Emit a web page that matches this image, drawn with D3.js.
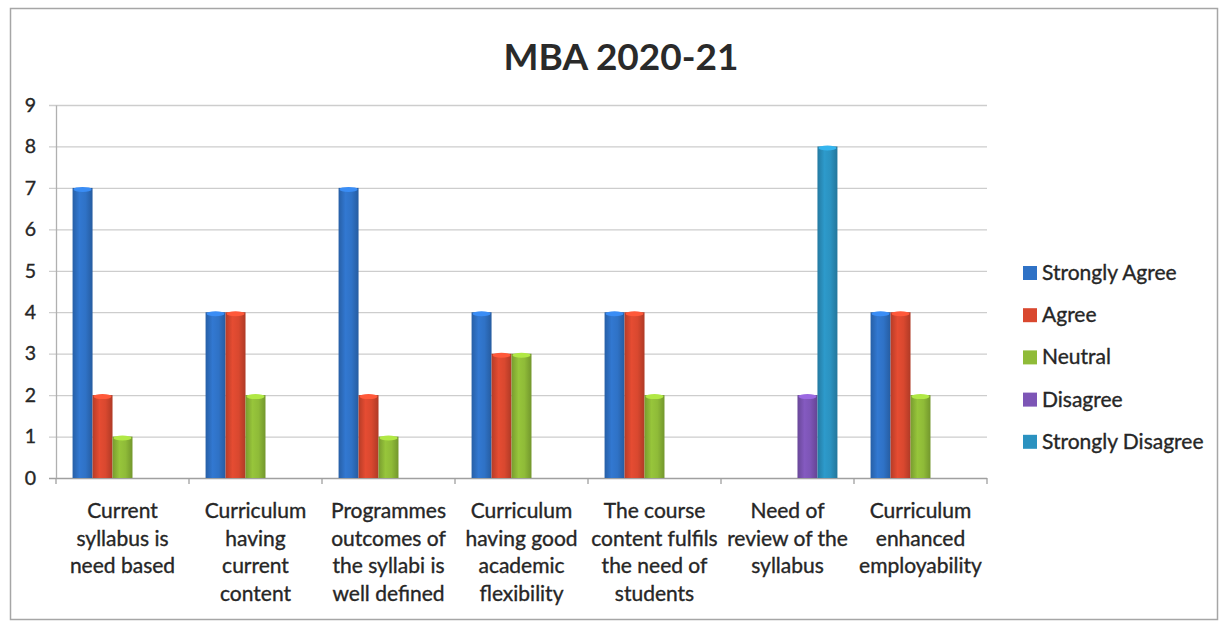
<!DOCTYPE html>
<html>
<head>
<meta charset="utf-8">
<script src="https://cdn.jsdelivr.net/npm/d3@7"></script>
<style>
  html, body { margin: 0; padding: 0; background: #fff; }
  svg { display: block; font-family: Lato, "Open Sans", sans-serif; }
</style>
</head>
<body>
<svg id="chart" width="1223" height="624"></svg>
<script>
const title = "MBA 2020-21";
const categories = [
  ["Current", "syllabus is", "need based"],
  ["Curriculum", "having", "current", "content"],
  ["Programmes", "outcomes of", "the syllabi is", "well defined"],
  ["Curriculum", "having good", "academic", "flexibility"],
  ["The course", "content fulfils", "the need of", "students"],
  ["Need of", "review of the", "syllabus"],
  ["Curriculum", "enhanced", "employability"]
];
const seriesNames = ["Strongly Agree", "Agree", "Neutral", "Disagree", "Strongly Disagree"];
const stronglyAgree    = [7, 4, 7, 4, 4, 0, 4];
const agree            = [2, 4, 2, 3, 4, 0, 4];
const neutral          = [1, 2, 1, 3, 2, 0, 2];
const disagree         = [0, 0, 0, 0, 0, 2, 0];
const stronglyDisagree = [0, 0, 0, 0, 0, 8, 0];
const yTicks = [0, 1, 2, 3, 4, 5, 6, 7, 8, 9];
const colors = ["#2f72c6", "#d9482f", "#8fbb38", "#7d55b6", "#2b92c0"];

const seriesValues = [stronglyAgree, agree, neutral, disagree, stronglyDisagree];

const svg = d3.select("#chart");
const plot = { left: 56, right: 987, top: 105, bottom: 478 };
const textColor = "#262626";

// border frame
svg.append("rect")
  .attr("x", 10.5).attr("y", 8.5)
  .attr("width", 1207).attr("height", 611)
  .attr("fill", "#fff").attr("stroke", "#a6a6a6").attr("stroke-width", 1.5);

// gradients
const defs = svg.append("defs");
colors.forEach((c, i) => {
  const g = defs.append("linearGradient").attr("id", "grad" + i)
    .attr("x1", "0%").attr("x2", "100%").attr("y1", "0%").attr("y2", "0%");
  const base = d3.color(c);
  g.append("stop").attr("offset", "0%").attr("stop-color", base.darker(0.5));
  g.append("stop").attr("offset", "35%").attr("stop-color", base.brighter(0.15));
  g.append("stop").attr("offset", "65%").attr("stop-color", base);
  g.append("stop").attr("offset", "100%").attr("stop-color", base.darker(0.6));
});

const x0 = d3.scaleBand().domain(d3.range(categories.length))
  .range([plot.left, plot.right]).paddingInner(0).paddingOuter(0);
const x1 = d3.scaleBand().domain(d3.range(seriesNames.length))
  .range([0, x0.bandwidth()]).paddingInner(0).paddingOuter(0.83);
const y = d3.scaleLinear().domain([0, 9]).range([plot.bottom, plot.top]);

// gridlines
svg.append("g").selectAll("line").data(yTicks).join("line")
  .attr("x1", plot.left - 7).attr("x2", plot.right)
  .attr("y1", d => y(d) + 0.5).attr("y2", d => y(d) + 0.5)
  .attr("stroke", d => d === 0 ? "#a0a0a0" : "#cdcdcd").attr("stroke-width", 1.3);

// y axis
const yAxis = d3.axisLeft(y).tickValues(yTicks).tickSize(0).tickPadding(20);
const gy = svg.append("g").attr("transform", `translate(${plot.left},0)`).call(yAxis);
gy.select(".domain").attr("stroke", "#b0b0b0").attr("stroke-width", 1.3);
gy.selectAll("text").attr("font-size", 19.5).attr("fill", textColor)
  .attr("stroke", textColor).attr("stroke-width", 0.35)
  .attr("font-family", "Lato, sans-serif");

// x axis ticks (between categories)
const xTickPos = d3.range(categories.length + 1).map(i => plot.left + i * x0.step());
svg.append("g").selectAll("line").data(xTickPos).join("line")
  .attr("x1", d => d).attr("x2", d => d)
  .attr("y1", plot.bottom).attr("y2", plot.bottom + 6)
  .attr("stroke", "#a0a0a0").attr("stroke-width", 1.3);

// bars
const data = [];
categories.forEach((c, ci) => {
  seriesValues.forEach((vals, si) => {
    if (vals[ci] > 0) data.push({ ci, si, v: vals[ci] });
  });
});
const bars = svg.append("g");
bars.selectAll("rect.bar").data(data).join("rect").attr("class", "bar")
  .attr("x", d => x0(d.ci) + x1(d.si))
  .attr("width", x1.bandwidth())
  .attr("y", d => y(d.v))
  .attr("height", d => y(0) - y(d.v))
  .attr("fill", d => `url(#grad${d.si})`);
bars.selectAll("ellipse.cap").data(data).join("ellipse").attr("class", "cap")
  .attr("cx", d => x0(d.ci) + x1(d.si) + x1.bandwidth() / 2)
  .attr("cy", d => y(d.v) + 1.5)
  .attr("rx", x1.bandwidth() / 2 - 1).attr("ry", 2.5)
  .attr("fill", d => d3.color(colors[d.si]).brighter(0.6));

// x labels
const xl = svg.append("g");
categories.forEach((lines, ci) => {
  const cx = x0(ci) + x0.bandwidth() / 2;
  const t = xl.append("text")
    .attr("x", cx).attr("y", 518)
    .attr("text-anchor", "middle")
    .attr("font-size", 21)
    .attr("fill", textColor).attr("stroke", textColor).attr("stroke-width", 0.35);
  lines.forEach((ln, li) => {
    t.append("tspan").attr("x", cx).attr("dy", li === 0 ? 0 : 27.5).text(ln);
  });
});

// title
svg.append("text").attr("x", 621).attr("y", 70)
  .attr("text-anchor", "middle").attr("font-size", 37).attr("font-weight", "bold")
  .attr("fill", "#2a2a2a").text(title);

// legend
const legend = svg.append("g").attr("transform", "translate(1023,273)");
const lg = legend.selectAll("g").data(seriesNames).join("g")
  .attr("transform", (d, i) => `translate(0,${i * 42.2})`);
lg.append("rect").attr("x", 0).attr("y", -7).attr("width", 14).attr("height", 14)
  .attr("fill", (d, i) => colors[i]);
lg.append("text").attr("x", 19).attr("y", 7).attr("font-size", 21)
  .attr("fill", textColor).attr("stroke", textColor).attr("stroke-width", 0.35)
  .text(d => d);
</script>
</body>
</html>
